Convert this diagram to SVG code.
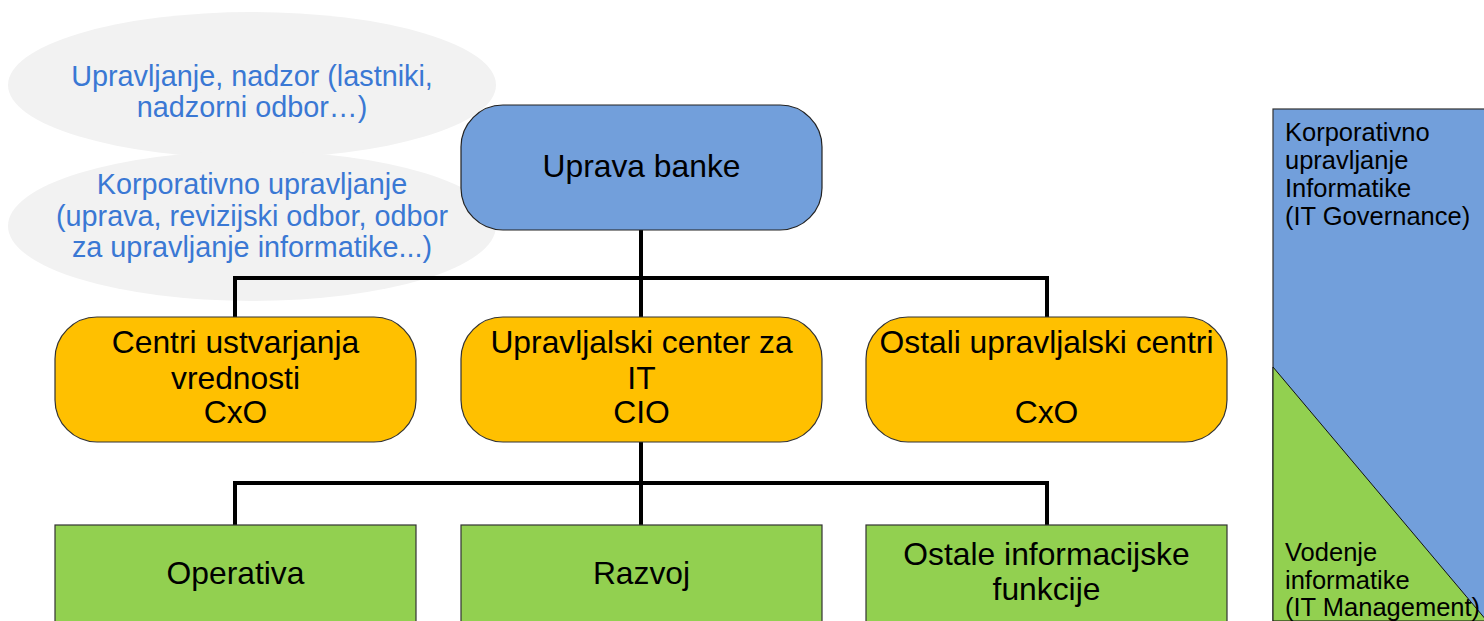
<svg xmlns="http://www.w3.org/2000/svg" width="1484" height="621" viewBox="0 0 1484 621">
<style>
.t{font-family:"Liberation Sans",Arial,sans-serif;fill:#000;text-anchor:middle}
.b{font-size:31.8px}
.e{font-family:"Liberation Sans",Arial,sans-serif;fill:#3A78D4;font-size:28.8px;text-anchor:middle}
.s{font-family:"Liberation Sans",Arial,sans-serif;fill:#000;font-size:25.5px}
.blue{fill:#729FDB;stroke:#222;stroke-width:1.2}
.yel{fill:#FFC000;stroke:#333;stroke-width:1.2}
.grn{fill:#92D050;stroke:#333;stroke-width:1.2}
.c{fill:none;stroke:#000;stroke-width:4}
</style>
<rect width="1484" height="621" fill="#fff"/>
<g id="ellipse-top">
<ellipse cx="252" cy="85" rx="244" ry="73" fill="#F2F2F2"/>
<text class="e" x="252" y="86">Upravljanje, nadzor (lastniki,</text>
<text class="e" x="252" y="117">nadzorni odbor…)</text>
</g>
<g id="ellipse-bottom">
<ellipse cx="252" cy="226" rx="244" ry="75" fill="#F2F2F2"/>
<text class="e" x="252" y="194">Korporativno upravljanje</text>
<text class="e" x="252" y="226">(uprava, revizijski odbor, odbor</text>
<text class="e" x="252" y="257">za upravljanje informatike...)</text>
</g>
<g id="side-panel">
<rect x="1273" y="109" width="220" height="530" fill="#729FDB" stroke="#333" stroke-width="1.2"/>
<polygon points="1273,367 1487,621 1273,621" fill="#92D050" stroke="#111" stroke-width="1"/>
<text class="s" x="1285" y="141">Korporativno</text>
<text class="s" x="1285" y="169">upravljanje</text>
<text class="s" x="1285" y="197">Informatike</text>
<text class="s" x="1285" y="225">(IT Governance)</text>
<text class="s" x="1285" y="561">Vodenje</text>
<text class="s" x="1285" y="589">informatike</text>
<text class="s" x="1285" y="616">(IT Management)</text>
</g>
<g id="connectors">
<path class="c" d="M641,230 V318 M235,318 V278 H1047 V318"/>
<path class="c" d="M641,442 V525 M235,525 V483 H1047 V525"/>
</g>
<g id="uprava-banke">
<rect class="blue" x="461" y="105" width="361" height="125" rx="42" ry="42"/>
<text class="t b" x="641.5" y="177">Uprava banke</text>
</g>
<g id="centri-ustvarjanja">
<rect class="yel" x="55" y="317" width="361" height="125" rx="42" ry="42"/>
<text class="t b" x="235.5" y="353">Centri ustvarjanja</text>
<text class="t b" x="235.5" y="389">vrednosti</text>
<text class="t b" x="235.5" y="423">CxO</text>
</g>
<g id="upravljalski-center-it">
<rect class="yel" x="461" y="317" width="361" height="125" rx="42" ry="42"/>
<text class="t b" x="641.5" y="353">Upravljalski center za</text>
<text class="t b" x="641.5" y="389">IT</text>
<text class="t b" x="641.5" y="423">CIO</text>
</g>
<g id="ostali-centri">
<rect class="yel" x="866" y="317" width="361" height="125" rx="42" ry="42"/>
<text class="t b" x="1046.5" y="353">Ostali upravljalski centri</text>
<text class="t b" x="1046.5" y="423">CxO</text>
</g>
<g id="operativa">
<rect class="grn" x="55" y="525" width="361" height="110"/>
<text class="t b" x="235.5" y="584">Operativa</text>
</g>
<g id="razvoj">
<rect class="grn" x="461" y="525" width="361" height="110"/>
<text class="t b" x="641.5" y="584">Razvoj</text>
</g>
<g id="ostale-funkcije">
<rect class="grn" x="866" y="525" width="361" height="110"/>
<text class="t b" x="1046.5" y="565">Ostale informacijske</text>
<text class="t b" x="1046.5" y="600">funkcije</text>
</g>
</svg>
